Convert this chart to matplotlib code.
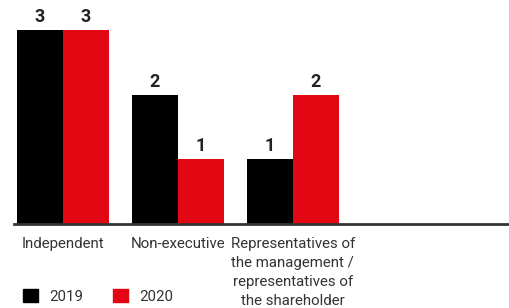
import matplotlib
matplotlib.use("Agg")
import matplotlib.pyplot as plt
import numpy as np
from matplotlib.patches import Patch

categories = ["Independent", "Non-executive",
              "Representatives of\nthe management /\nrepresentatives of\nthe shareholder"]
series_names = ["2019", "2020"]
values_2019 = [3, 2, 1]
values_2020 = [3, 1, 2]
colors = ["#000000", "#E30613"]

plt.rcParams['font.family'] = ['Roboto', 'DejaVu Sans']

fig = plt.figure(figsize=(5.09, 3.08), dpi=100)
ax = fig.add_axes([14/509, 84/308, 495/509, 224/308])

x = np.arange(len(categories))
w = 0.4
for vals, off, c in [(values_2019, -w/2, colors[0]), (values_2020, w/2, colors[1])]:
    bars = ax.bar(x + off, vals, width=w, color=c, zorder=2)
    for b, v in zip(bars, vals):
        ax.annotate(str(v), (b.get_x() + b.get_width()/2, v), xytext=(0, 3),
                    textcoords="offset points", ha="center", va="bottom",
                    fontsize=13, fontweight="bold", color="#222222")

ax.set_xlim(-0.426, 3.88)
ax.set_ylim(0, 3.464)
ax.set_xticks(x)
ax.set_xticklabels(categories, fontsize=10.8, color="#333333", linespacing=1.45)
ax.tick_params(axis="x", length=0, pad=9.5)
ax.set_yticks([])
for s in ["top", "right", "left"]:
    ax.spines[s].set_visible(False)
ax.spines["bottom"].set_color("#333333")
ax.spines["bottom"].set_linewidth(2)

handles = [Patch(color=c, label=n) for c, n in zip(colors, series_names)]
fig.legend(handles=handles, loc="lower left", bbox_to_anchor=(9/509, -0.03),
           ncol=2, frameon=False, fontsize=10.8, handlelength=1.0, handleheight=1.0,
           handletextpad=0.75, columnspacing=2.0, labelcolor="#333333")

fig.savefig("out.png", dpi=100)
